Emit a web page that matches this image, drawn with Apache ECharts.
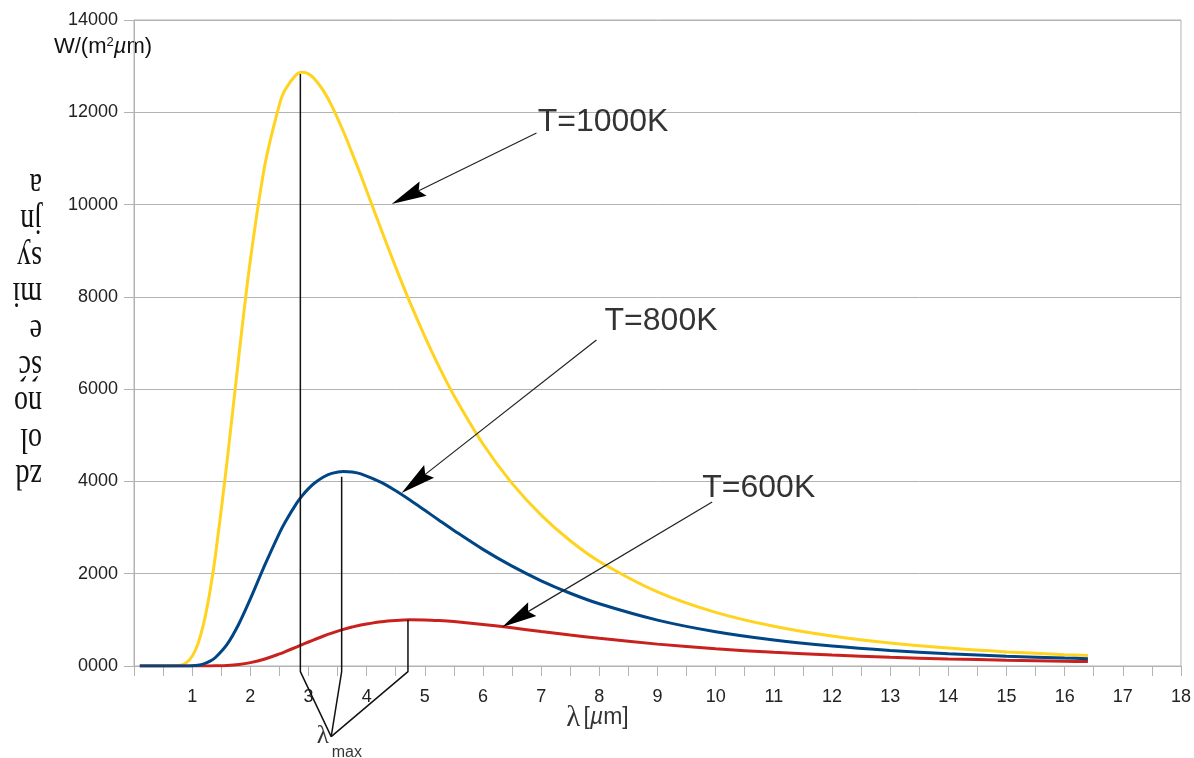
<!DOCTYPE html>
<html>
<head>
<meta charset="utf-8">
<script src="https://cdn.jsdelivr.net/npm/echarts@6/dist/echarts.min.js"></script>
<style>
html,body{margin:0;padding:0;background:#fff;}
#c{width:1194px;height:758px;}
</style>
</head>
<body>
<div id="c"></div>
<script>
// wavelength grid (µm)
const lambda = [0.1,0.5,0.8,0.9,1.0,1.1,1.2,1.3,1.4,1.6,1.8,2.0,2.25,2.5,2.6,2.8,2.9,3.0,3.1,3.25,3.4,3.6,3.75,3.9,4.25,4.5,4.75,5.0,5.25,5.5,6.0,6.5,7.0,7.5,8.0,9.0,10,11,12,13,14,15,16,16.4];
// spectral exitance W/(m²µm)
const t1000 = [0,0,18,72,211,484,933,1572,2394,4435,6690,8792,10858,12168,12493,12827,12866,12832,12727,12480,12140,11584,11116,10634,9459,8640,7863,7140,6472,5863,4812,3958,3269,2714,2266,1606,1163,861,649,498,388,306,245,225];
const t800  = [0,0,0,1,6,18,47,99,184,468,906,1453,2191,2881,3123,3536,3704,3845,3961,4092,4174,4215,4205,4164,3978,3796,3591,3374,3154,2938,2527,2163,1846,1577,1348,994,742,563,433,337,266,213,172,158];
const t600  = [0,0,0,0,0,0,0,1,3,11,32,73,153,261,311,415,468,520,571,645,713,793,844,888,960,988,1000,998,984,962,901,827,748,672,600,474,374,296,236,189,153,125,103,95];

const seriesNames = ['T=1000K','T=800K','T=600K'];
const xTickLabels = ['','1','2','3','4','5','6','7','8','9','10','11','12','13','14','15','16','17','18'];
const yTickLabels = ['0000','2000','4000','6000','8000','10000','12000','14000'];

// annotation geometry in data units
const peakLines = [
  [[2.86,12830],[2.86,-123],[3.39,-1532]],
  [[3.57,4100],[3.57,-123],[3.39,-1532]],
  [[4.71,1000],[4.71,-123],[3.39,-1532]]
];
// arrows: [x1, y1, x2, y2] (from label to curve)
const arrows = [
  [6.92,11552,4.43,10013],
  [7.95,7066,4.60,3750],
  [9.94,3554,6.33,845]
];
const labelPos = [[6.94,11790],[8.09,7477],[9.77,3858]];

const pair = arr => lambda.map((x,i)=>[x,arr[i]]);
const chart = echarts.init(document.getElementById('c'), null, {renderer:'canvas'});

const font = 'Liberation Sans, Arial, sans-serif';
const grey = '#b3b3b3';

const curve = (name, data, color, z) => ({
  type:'line', name, data: pair(data), showSymbol:false, smooth:0.3,
  lineStyle:{color, width:3}, itemStyle:{color}, z, silent:true
});

const series = [
  curve(seriesNames[0], t1000, '#ffd320', 2),
  curve(seriesNames[2], t600, '#c9211e', 3),
  curve(seriesNames[1], t800, '#004586', 4)
];
peakLines.forEach(p => series.push({
  type:'line', data:p, showSymbol:false, clip:false, silent:true, z:6,
  lineStyle:{color:'#111', width:1.5}
}));
series.push({
  type:'custom', silent:true, z:7, clip:false,
  data: arrows,
  encode:{x:[0,2], y:[1,3]},
  renderItem: function(params, api){
    const p1 = api.coord([api.value(0), api.value(1)]);
    const p2 = api.coord([api.value(2), api.value(3)]);
    const dx = p2[0]-p1[0], dy = p2[1]-p1[1];
    const len = Math.sqrt(dx*dx+dy*dy);
    const ux = dx/len, uy = dy/len, nx = -uy, ny = ux;
    const L = 35, W = 8;
    const bx = p2[0]-ux*L, by = p2[1]-uy*L;
    const mx = p2[0]-ux*L*0.86, my = p2[1]-uy*L*0.86;
    return {type:'group', children:[
      {type:'line', shape:{x1:p1[0], y1:p1[1], x2:mx, y2:my}, style:{stroke:'#222', lineWidth:1.2}},
      {type:'polygon', shape:{points:[[p2[0],p2[1]],[bx+nx*W, by+ny*W],[mx,my],[bx-nx*W, by-ny*W]]}, style:{fill:'#000'}}
    ]};
  }
});
series.push({
  type:'scatter', symbolSize:0, clip:false, silent:true, z:8,
  data: labelPos.map((p,i)=>({value:p, label:{formatter:seriesNames[i]}})),
  label:{show:true, position:'right', distance:0, fontFamily:font, fontSize:32, color:'#000', verticalAlign:'middle'}
});
// axis title and lambda_max labels
series.push({
  type:'scatter', symbolSize:0, clip:false, silent:true, z:8,
  data:[
    {value:[7.43,-1127], label:{formatter:'{l|λ} {b|[}{m|µ}{b|m]}'}},
    {value:[3.14,-1520], label:{formatter:'{k|λ}'}},
    {value:[3.40,-1886], label:{formatter:'{s|max}'}}
  ],
  label:{show:true, position:'right', distance:0, color:'#000', verticalAlign:'middle',
    rich:{
      l:{fontFamily:'Liberation Serif, serif', fontSize:29, color:'#000'},
      k:{fontFamily:'Liberation Serif, serif', fontSize:25, color:'#000'},
      b:{fontFamily:font, fontSize:23, color:'#000'},
      m:{fontFamily:font, fontSize:23, fontStyle:'italic', color:'#000'},
      s:{fontFamily:font, fontSize:16, color:'#000'}
    }}
});

chart.setOption({
  animation:false,
  backgroundColor:'#fff',
  grid:{left:134, right:11, top:20, bottom:92, show:true, borderColor:grey, borderWidth:1},
  xAxis:{
    type:'value', min:0, max:18, interval:1,
    axisLine:{show:true, lineStyle:{color:grey, width:1}},
    axisTick:{show:true, length:10, lineStyle:{color:grey}},
    minorTick:{show:true, splitNumber:2, length:10, lineStyle:{color:grey}},
    splitLine:{show:false},
    axisLabel:{margin:22, fontFamily:font, fontSize:18, color:'#222',
      formatter: v => xTickLabels[Math.round(v)] ?? ''}
  },
  yAxis:{
    type:'value', min:0, max:14000, interval:2000,
    name:'{a|W/(m}{sup|2}{m|µ}{a|m)}', nameLocation:'end', nameGap:-27,
    nameTextStyle:{align:'center', verticalAlign:'middle', padding:[0,62,0,0],
      rich:{a:{fontFamily:font, fontSize:22, color:'#111'},
            m:{fontFamily:font, fontSize:22, fontStyle:'italic', color:'#111'},
            sup:{fontFamily:font, fontSize:13, color:'#111', verticalAlign:'top', padding:[0,0,8,0]}}},
    axisLine:{show:true, lineStyle:{color:grey, width:1}},
    axisTick:{show:true, length:10, lineStyle:{color:grey}},
    splitLine:{show:true, lineStyle:{color:grey, width:1}},
    axisLabel:{margin:16, fontFamily:font, fontSize:18, color:'#222',
      formatter: v => yTickLabels[Math.round(v/2000)] ?? ''}
  },
  graphic:[{
    type:'text', x:42, y:493, rotation:Math.PI, scaleY:1.3, silent:true,
    style:{text:'zd\nol\nno\nść\ne\nmi\nsy\njn\na', fontFamily:'Liberation Serif, serif', fontSize:28,
      lineHeight:28, fill:'#111', align:'left', verticalAlign:'top'}
  }],
  series
});
</script>
</body>
</html>
